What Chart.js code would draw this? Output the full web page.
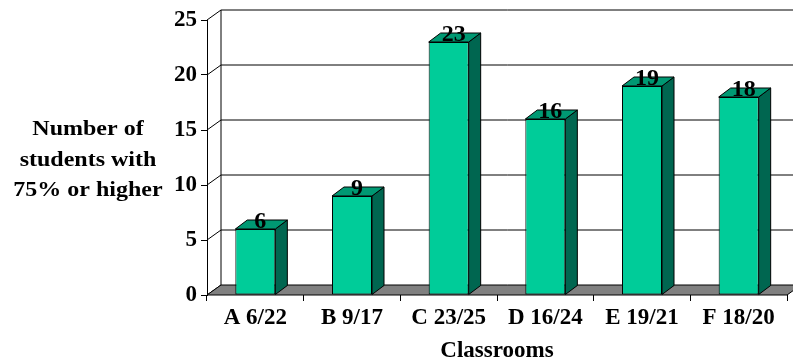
<!DOCTYPE html>
<html>
<head>
<meta charset="utf-8">
<script src="https://cdn.jsdelivr.net/npm/chart.js@4/dist/chart.umd.min.js"></script>
<style>
  html, body { margin: 0; padding: 0; background: #ffffff; }
  #wrap { width: 793px; height: 364px; position: relative; }
</style>
</head>
<body>
<div id="wrap"><canvas id="c" width="793" height="364"></canvas></div>
<script>
// Classroom results: students scoring 75% or higher
const classrooms = ['A 6/22', 'B 9/17', 'C 23/25', 'D 16/24', 'E 19/21', 'F 18/20'];
const studentsAtOrAbove75 = [6, 9, 23, 16, 19, 18];
const yTicks = [0, 5, 10, 15, 20, 25];
const yTitleLines = ['Number of', 'students with', '75% or higher'];
const xTitle = 'Classrooms';

const SERIF = "'Liberation Serif', 'Times New Roman', serif";
const WALL = { dx: 14, dy: -10 };   // depth of the back wall / floor
const BOX = { dx: 12, dy: -9 };     // depth of each bar
const COLORS = { front: '#00CC99', side: '#006650', top: '#009973', floor: '#808080' };

function poly(ctx, pts, fill) {
  ctx.beginPath();
  ctx.moveTo(pts[0][0], pts[0][1]);
  for (let i = 1; i < pts.length; i++) ctx.lineTo(pts[i][0], pts[i][1]);
  ctx.closePath();
  if (fill) { ctx.fillStyle = fill; ctx.fill(); }
  ctx.strokeStyle = '#000';
  ctx.lineWidth = 1;
  ctx.stroke();
}

function line(ctx, x1, y1, x2, y2, color) {
  ctx.beginPath();
  ctx.moveTo(x1, y1);
  ctx.lineTo(x2, y2);
  ctx.strokeStyle = color || '#000';
  ctx.lineWidth = 1;
  ctx.stroke();
}

// Draws the 3D walls/floor behind the bars and the depth faces + labels in front
const box3d = {
  id: 'box3d',
  beforeDatasetsDraw(chart) {
    const { ctx, chartArea: a, scales: { y } } = chart;
    ctx.save();
    const yMin = y.getPixelForValue(yTicks[0]);
    const yMax = y.getPixelForValue(yTicks[yTicks.length - 1]);
    // back wall gridlines and side-wall diagonals
    yTicks.forEach(v => {
      const py = y.getPixelForValue(v);
      if (v > yTicks[0]) line(ctx, a.left + WALL.dx, py + WALL.dy, a.right + WALL.dx, py + WALL.dy, '#000');
      line(ctx, a.left, py, a.left + WALL.dx, py + WALL.dy, '#000');
    });
    // back wall left edge
    line(ctx, a.left + WALL.dx, yMin + WALL.dy, a.left + WALL.dx, yMax + WALL.dy, '#000');
    // floor
    poly(ctx, [
      [a.left, yMin], [a.right, yMin],
      [a.right + WALL.dx, yMin + WALL.dy], [a.left + WALL.dx, yMin + WALL.dy]
    ], COLORS.floor);
    ctx.restore();
  },
  afterDatasetsDraw(chart) {
    const { ctx } = chart;
    const meta = chart.getDatasetMeta(0);
    ctx.save();
    meta.data.forEach((bar, i) => {
      const { x, y, base, width } = bar.getProps(['x', 'y', 'base', 'width'], true);
      const l = x - width / 2, r = x + width / 2;
      poly(ctx, [[r, y], [r + BOX.dx, y + BOX.dy], [r + BOX.dx, base + BOX.dy], [r, base]], COLORS.side);
      poly(ctx, [[l, y], [r, y], [r + BOX.dx, y + BOX.dy], [l + BOX.dx, y + BOX.dy]], COLORS.top);
      ctx.fillStyle = '#000';
      ctx.font = 'bold 24px ' + SERIF;
      ctx.textAlign = 'center';
      ctx.textBaseline = 'alphabetic';
      ctx.fillText(String(studentsAtOrAbove75[i]), x + BOX.dx / 2 - 1, y - 1);
    });
    // horizontal y-axis title (slightly wide lettering)
    const a = chart.chartArea;
    const cy = (a.top + a.bottom) / 2 + 3;
    ctx.font = 'bold 20px ' + SERIF;
    ctx.textAlign = 'center';
    ctx.textBaseline = 'middle';
    const lh = 30.5;
    const sx = 1.2;
    ctx.scale(sx, 1);
    yTitleLines.forEach((t, k) => {
      ctx.fillText(t, 88 / sx, cy + (k - (yTitleLines.length - 1) / 2) * lh);
    });
    ctx.restore();
  }
};

const axisFont = { family: SERIF, size: 23, weight: 'bold' };

new Chart(document.getElementById('c'), {
  type: 'bar',
  data: {
    labels: classrooms,
    datasets: [{
      data: studentsAtOrAbove75,
      backgroundColor: COLORS.front,
      borderColor: '#000',
      borderWidth: 1,
      borderSkipped: false,
      categoryPercentage: 1,
      barPercentage: 0.414
    }]
  },
  options: {
    responsive: false,
    animation: false,
    devicePixelRatio: 1,
    layout: { padding: { left: 0, right: 6, top: 20, bottom: 0 } },
    plugins: { legend: { display: false }, tooltip: { enabled: false } },
    scales: {
      x: {
        grid: { drawOnChartArea: false, drawTicks: true, tickLength: 6, color: '#000', offset: true },
        border: { display: false },
        ticks: { color: '#000', font: axisFont, padding: 3, maxRotation: 0, autoSkip: false },
        title: { display: true, text: xTitle, color: '#000', font: { family: SERIF, size: 23, weight: 'bold', lineHeight: 1.1 }, padding: { top: 0, bottom: 0 } },
        afterFit(s) { s.height = 69; }
      },
      y: {
        min: 0,
        max: 25,
        afterBuildTicks(s) { s.ticks = yTicks.map(v => ({ value: v })); },
        grid: { drawOnChartArea: false, drawTicks: true, tickLength: 6, color: '#000' },
        border: { display: true, color: '#000', width: 1 },
        ticks: { color: '#000', font: axisFont, padding: 4 },
        afterFit(s) { s.width = 207; }
      }
    }
  },
  plugins: [box3d]
});
</script>
</body>
</html>
